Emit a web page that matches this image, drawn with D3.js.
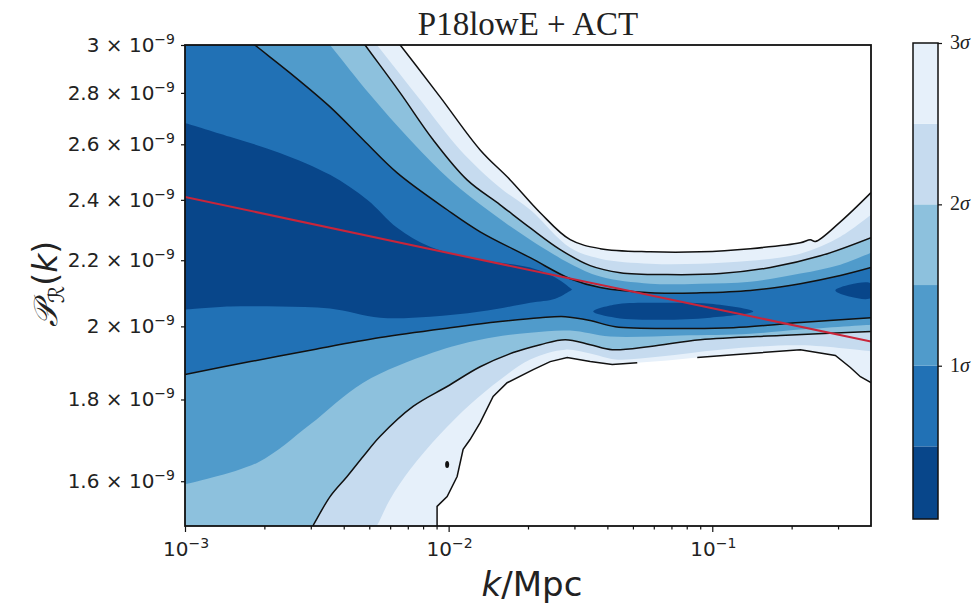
<!DOCTYPE html>
<html>
<head>
<meta charset="utf-8">
<script src="https://cdn.jsdelivr.net/npm/d3@7"></script>
<style>
  body { margin: 0; background: #fff; }
  text { fill: #222; }
</style>
</head>
<body>
<svg id="chart" width="980" height="608"></svg>
<script>
// Primordial power spectrum reconstruction, P_R(k) in units of 1e-9, k in 1/Mpc.
// Each contour is given as [k, P] pairs: upper and lower edges of the
// sigma-level regions, from the outermost (3 sigma) inwards.

const upper3 = [[1e-3,4.458],[4.61e-3,3.233],[6.55e-3,3.0],[9.28e-3,2.784],[1.317e-2,2.579],[1.712e-2,2.47],[2.225e-2,2.356],[2.892e-2,2.266],[3.758e-2,2.237],[5.818e-2,2.227],[9.005e-2,2.227],[0.1394,2.237],[0.2158,2.256],[0.2355,2.266],[0.246,2.26],[0.3061,2.325],[0.4,2.425]];
const lower3 = [[1e-3,0.877],[7.8e-3,1.349],[9.04e-3,1.471],[9.04e-3,1.543],[9.87e-3,1.565],[1.077e-2,1.611],[1.135e-2,1.675],[1.206e-2,1.699],[1.317e-2,1.741],[1.475e-2,1.808],[1.667e-2,1.844],[2.093e-2,1.879],[2.428e-2,1.901],[2.817e-2,1.912],[3.443e-2,1.901],[4.175e-2,1.893],[5.193e-2,1.898],[6.748e-2,1.904],[8.772e-2,1.912],[0.1202,1.92],[0.2158,1.934],[0.293,1.918],[0.334,1.885],[0.3646,1.86],[0.4,1.844]];
// k-interval where the lower 3 sigma contour line is broken
const lower3Gap = [5.2e-2, 8.7e-2];
// isolated 3 sigma contour
const islands3 = [[9.87e-3, 1.639]];

const upper25 = [[1e-3,4.268],[3.87e-3,3.21],[5.35e-3,3.0],[7.8e-3,2.772],[1.106e-2,2.579],[1.568e-2,2.442],[2.039e-2,2.366],[2.892e-2,2.24],[3.758e-2,2.205],[5.818e-2,2.189],[9.005e-2,2.189],[0.1394,2.198],[0.2158,2.221],[0.3061,2.276],[0.4,2.349]];
const lower25 = [[1e-3,0.877],[3.55e-3,1.349],[4.82e-3,1.461],[5.35e-3,1.501],[6.0e-3,1.559],[7.14e-3,1.627],[9.28e-3,1.712],[1.206e-2,1.787],[1.568e-2,1.852],[2.039e-2,1.907],[2.768e-2,1.934],[3.443e-2,1.923],[4.286e-2,1.907],[6.35e-2,1.915],[0.1073,1.934],[0.2158,1.946],[0.4,1.929]];

const upper2 = [[1e-3,4.268],[3.55e-3,3.215],[4.82e-3,3.0],[6.55e-3,2.8],[8.73e-3,2.617],[1.175e-2,2.47],[1.568e-2,2.383],[2.039e-2,2.305],[2.65e-2,2.234],[3.443e-2,2.183],[4.477e-2,2.161],[6.748e-2,2.155],[0.1073,2.158],[0.1661,2.177],[0.257,2.214],[0.4,2.273]];
const lower2 = [[1e-3,1.072],[1.77e-3,1.274],[2.73e-3,1.455],[3.06e-3,1.501],[3.55e-3,1.565],[4.12e-3,1.611],[4.74e-3,1.658],[5.5e-3,1.707],[7.33e-3,1.782],[9.87e-3,1.834],[1.317e-2,1.887],[1.757e-2,1.926],[2.225e-2,1.948],[2.768e-2,1.962],[3.443e-2,1.948],[4.175e-2,1.934],[5.818e-2,1.943],[9.005e-2,1.962],[0.1812,1.974],[0.4,1.985]];

const upper15 = [[1e-3,3.892],[2.73e-3,3.164],[3.55e-3,3.0],[5.04e-3,2.792],[7.14e-3,2.617],[1.013e-2,2.47],[1.437e-2,2.359],[2.039e-2,2.266],[2.892e-2,2.189],[3.758e-2,2.149],[5.818e-2,2.127],[9.005e-2,2.127],[0.1394,2.133],[0.2158,2.158],[0.3061,2.186],[0.4,2.224]];
const lower15 = [[1e-3,1.593],[1.89e-3,1.644],[2.98e-3,1.736],[4.74e-3,1.844],[8.73e-3,1.926],[1.317e-2,1.962],[2.039e-2,1.982],[2.892e-2,1.988],[4.103e-2,1.971],[7.561e-2,1.974],[0.1394,1.979],[0.2158,1.991],[0.4,2.005]];

const upper1 = [[1e-3,3.256],[1.36e-3,3.123],[1.84e-3,3.0],[2.5e-3,2.882],[3.55e-3,2.744],[4.74e-3,2.617],[6.38e-3,2.495],[9.87e-3,2.366],[1.317e-2,2.292],[2.039e-2,2.208],[2.892e-2,2.142],[3.758e-2,2.115],[5.818e-2,2.099],[9.005e-2,2.099],[0.1394,2.106],[0.2158,2.127],[0.3061,2.152],[0.4,2.177]];
const lower1 = [[1e-3,1.866],[1.77e-3,1.901],[3.06e-3,1.934],[5.5e-3,1.968],[1.013e-2,1.996],[1.568e-2,2.014],[2.225e-2,2.025],[2.768e-2,2.028],[3.443e-2,2.017],[4.286e-2,1.999],[7.561e-2,1.994],[0.1202,1.996],[0.2158,2.011],[0.4,2.025]];

// innermost (0.5 sigma) region: main lobe plus two islands
const upper05 = [[1e-3,2.681],[1.48e-3,2.628],[2.29e-3,2.568],[3.55e-3,2.488],[4.91e-3,2.4],[6.38e-3,2.305],[8.51e-3,2.243],[1.317e-2,2.202],[2.039e-2,2.177],[2.537e-2,2.146],[2.943e-2,2.109]];
const lower05 = [[1e-3,2.049],[1.48e-3,2.058],[2.29e-3,2.058],[3.55e-3,2.052],[5.5e-3,2.025],[8.51e-3,2.028],[1.317e-2,2.043],[2.039e-2,2.069],[2.537e-2,2.081],[2.943e-2,2.109]];
const island05a = [[3.535e-2,2.043],[4.286e-2,2.064],[6.35e-2,2.069],[9.83e-2,2.066],[0.143,2.043],[9.83e-2,2.025],[6.35e-2,2.019],[4.286e-2,2.025]];
const island05b = [[0.293,2.106],[0.334,2.124],[0.4,2.127],[0.4,2.084],[0.334,2.087]];

// best-fit power law
const bestFit = [[1e-3,2.41],[1e-2,2.223],[1e-1,2.053],[0.4,1.957]];

// bands 0-0.5, 0.5-1, 1-1.5, 1.5-2, 2-2.5, 2.5-3 sigma
const bandColors = ["#08468a","#2171b5","#509bcb","#8dc1dd","#c6dbef","#e6f0fa"];
const cbLevels = [0.05, 0.5, 1, 1.5, 2, 2.5, 3];
const cbTicks = [1, 2, 3];

const xMajor = [1e-3, 1e-2, 1e-1];
const xMajorExp = ["\u22123", "\u22122", "\u22121"];
const xMinor = [2e-3,3e-3,4e-3,5e-3,6e-3,7e-3,8e-3,9e-3,2e-2,3e-2,4e-2,5e-2,6e-2,7e-2,8e-2,9e-2,0.2,0.3];
const yTicks = [1.6, 1.8, 2.0, 2.2, 2.4, 2.6, 2.8, 3.0];
const yTickText = ["1.6", "1.8", "2", "2.2", "2.4", "2.6", "2.8", "3"];

const svg = d3.select("#chart");
const x = d3.scaleLog().domain([1e-3, 0.4]).range([185, 871]);
const y = d3.scaleLog().domain([1.5, 3]).range([526, 45]);

svg.append("defs").append("clipPath").attr("id", "plotClip")
  .append("rect").attr("x", x.range()[0]).attr("y", y.range()[1])
  .attr("width", x.range()[1] - x.range()[0]).attr("height", y.range()[0] - y.range()[1]);

const smooth = d3.line().x(d => x(d[0])).y(d => y(d[1])).curve(d3.curveCatmullRom.alpha(0.5));
const straight = d3.line().x(d => x(d[0])).y(d => y(d[1]));
const closedSmooth = d3.line().x(d => x(d[0])).y(d => y(d[1])).curve(d3.curveCatmullRomClosed.alpha(0.5));

function region(upper, lower, genUp, genLo) {
  return genUp(upper) + genLo(lower.slice().reverse()).replace(/^M/, "L") + "Z";
}

const plot = svg.append("g").attr("clip-path", "url(#plotClip)");

// filled sigma regions, outermost first
const regions = [
  { up: upper3,  lo: lower3,  gLo: straight, color: bandColors[5] },
  { up: upper25, lo: lower25, gLo: smooth,   color: bandColors[4] },
  { up: upper2,  lo: lower2,  gLo: smooth,   color: bandColors[3] },
  { up: upper15, lo: lower15, gLo: smooth,   color: bandColors[2] },
  { up: upper1,  lo: lower1,  gLo: smooth,   color: bandColors[1] }
];
plot.selectAll("path.band").data(regions).join("path")
  .attr("class", "band")
  .attr("d", r => region(r.up, r.lo, smooth, r.gLo))
  .attr("fill", r => r.color);

plot.append("path").attr("d", region(upper05, lower05, smooth, smooth)).attr("fill", bandColors[0]);
plot.selectAll("path.island").data([island05a, island05b]).join("path")
  .attr("class", "island").attr("d", d => closedSmooth(d)).attr("fill", bandColors[0]);

// contour lines at 1, 2 and 3 sigma
const lines = plot.append("g").attr("fill", "none").attr("stroke", "#111").attr("stroke-width", 1.5);
[upper1, lower1, upper2, lower2, upper3].forEach(c => lines.append("path").attr("d", smooth(c)));
lines.append("path").attr("d", straight(lower3.filter(d => d[0] <= lower3Gap[0])));
lines.append("path").attr("d", straight(lower3.filter(d => d[0] >= lower3Gap[1])));
plot.selectAll("ellipse.iso").data(islands3).join("ellipse")
  .attr("class", "iso").attr("cx", d => x(d[0])).attr("cy", d => y(d[1]))
  .attr("rx", 2).attr("ry", 3.5).attr("fill", "#111");

// best fit
plot.append("path").attr("d", straight(bestFit))
  .attr("fill", "none").attr("stroke", "#c9253a").attr("stroke-width", 2);

// frame
svg.append("rect").attr("x", x.range()[0]).attr("y", y.range()[1])
  .attr("width", x.range()[1] - x.range()[0]).attr("height", y.range()[0] - y.range()[1])
  .attr("fill", "none").attr("stroke", "#111").attr("stroke-width", 1.8);

// x axis ticks
const xAxisMajor = d3.axisBottom(x).tickValues(xMajor).tickSize(6).tickFormat("");
const xAxisMinor = d3.axisBottom(x).tickValues(xMinor).tickSize(3.5).tickFormat("");
[xAxisMajor, xAxisMinor].forEach(ax => {
  const g = svg.append("g").attr("transform", `translate(0,${y.range()[0]})`).call(ax);
  g.select(".domain").remove();
  g.selectAll("line").attr("stroke", "#111").attr("stroke-width", 1.2);
});
const xl = svg.append("g").attr("font-family", "DejaVu Sans").attr("font-size", 20);
xMajor.forEach((v, i) => {
  const t = xl.append("text").attr("x", x(v) + 1).attr("y", 556).attr("text-anchor", "middle");
  t.append("tspan").text("10");
  t.append("tspan").attr("font-size", 14).attr("dy", -8).text(xMajorExp[i]);
});

// y axis ticks
const yAxis = d3.axisLeft(y).tickValues(yTicks).tickSize(4).tickFormat("");
const gy = svg.append("g").attr("transform", `translate(${x.range()[0]},0)`).call(yAxis);
gy.select(".domain").remove();
gy.selectAll("line").attr("stroke", "#111").attr("stroke-width", 1.2);
const yl = svg.append("g").attr("font-family", "DejaVu Sans").attr("font-size", 20);
yTicks.forEach((v, i) => {
  const t = yl.append("text").attr("x", 175).attr("y", y(v) + 7).attr("text-anchor", "end");
  t.append("tspan").text(yTickText[i] + " \u00d7 10");
  t.append("tspan").attr("font-size", 14).attr("dy", -8).text("\u22129");
});

// titles
svg.append("text").attr("x", (x.range()[0] + x.range()[1]) / 2).attr("y", 35)
  .attr("text-anchor", "middle").attr("font-family", "Liberation Serif").attr("font-size", 33)
  .text("P18lowE + ACT");

const xt = svg.append("text").attr("x", 532).attr("y", 596).attr("text-anchor", "middle")
  .attr("font-family", "DejaVu Sans").attr("font-size", 34);
xt.append("tspan").attr("font-style", "italic").text("k");
xt.append("tspan").text("/Mpc");

const yt = svg.append("text").attr("transform", "translate(57,284) rotate(-90)")
  .attr("text-anchor", "middle").attr("font-family", "DejaVu Sans").attr("font-size", 33);
yt.append("tspan").attr("font-style", "italic").text("\ud835\udcab");
yt.append("tspan").attr("font-size", 22).attr("dy", 7).text("\u211b");
yt.append("tspan").attr("dy", -7).text("(");
yt.append("tspan").attr("font-style", "italic").text("k");
yt.append("tspan").text(")");

// colour bar
const cb = d3.scaleLinear().domain([cbLevels[0], cbLevels[cbLevels.length - 1]]).range([519, 43]);
const cbg = svg.append("g");
cbg.selectAll("rect.cbband").data(d3.range(cbLevels.length - 1)).join("rect")
  .attr("class", "cbband").attr("x", 913).attr("width", 25)
  .attr("y", i => cb(cbLevels[i + 1])).attr("height", i => cb(cbLevels[i]) - cb(cbLevels[i + 1]))
  .attr("fill", i => bandColors[i]);
cbg.append("rect").attr("x", 913).attr("width", 25).attr("y", cb.range()[1])
  .attr("height", cb.range()[0] - cb.range()[1]).attr("fill", "none")
  .attr("stroke", "#111").attr("stroke-width", 1.5);
const cbAxis = d3.axisRight(cb).tickValues(cbTicks).tickSize(4).tickFormat("");
const gcb = svg.append("g").attr("transform", "translate(938,0)").call(cbAxis);
gcb.select(".domain").remove();
gcb.selectAll("line").attr("stroke", "#111").attr("stroke-width", 1.2);
cbTicks.forEach(v => {
  const t = svg.append("text").attr("x", 950).attr("y", cb(v) + 6)
    .attr("font-family", "Liberation Serif").attr("font-size", 20);
  t.append("tspan").text(v);
  t.append("tspan").attr("font-style", "italic").text("\u03c3");
});
</script>
</body>
</html>
